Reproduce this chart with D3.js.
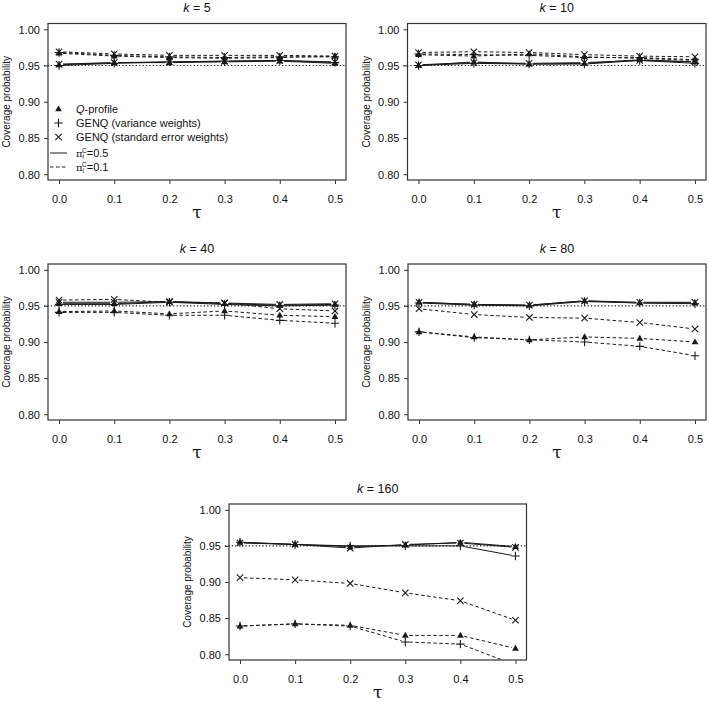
<!DOCTYPE html>
<html><head><meta charset="utf-8">
<script src="https://cdn.jsdelivr.net/npm/d3@7"></script>
<style>body{margin:0;background:#fff}svg{display:block}text{font-family:"Liberation Sans",Arial,sans-serif;fill:#111}</style>
</head><body>
<script>
const taus = [0.0, 0.1, 0.2, 0.3, 0.4, 0.5];
const yTicks = [0.80, 0.85, 0.90, 0.95, 1.00];
const panelTitles = ["5", "10", "40", "80", "160"];
const methods = ["Q-profile", "GENQ (variance weights)", "GENQ (standard error weights)"];
const piLabels = ["0.5", "0.1"];

// values per panel: [method][pi] ; pi index 0 = 0.5 (solid), 1 = 0.1 (dashed)
const k5_Q_05   = [0.951, 0.954, 0.954, 0.955, 0.956, 0.953];
const k5_V_05   = [0.950, 0.953, 0.955, 0.956, 0.957, 0.954];
const k5_S_05   = [0.952, 0.954, 0.955, 0.956, 0.957, 0.955];
const k5_Q_01   = [0.967, 0.963, 0.961, 0.960, 0.961, 0.963];
const k5_V_01   = [0.968, 0.964, 0.962, 0.961, 0.962, 0.962];
const k5_S_01   = [0.969, 0.966, 0.964, 0.964, 0.964, 0.963];

const k10_Q_05  = [0.950, 0.955, 0.952, 0.953, 0.958, 0.955];
const k10_V_05  = [0.950, 0.953, 0.952, 0.952, 0.957, 0.953];
const k10_S_05  = [0.951, 0.954, 0.953, 0.954, 0.957, 0.955];
const k10_Q_01  = [0.965, 0.963, 0.966, 0.962, 0.960, 0.957];
const k10_V_01  = [0.966, 0.965, 0.964, 0.961, 0.961, 0.958];
const k10_S_01  = [0.968, 0.969, 0.968, 0.965, 0.963, 0.962];

const k40_Q_05  = [0.953, 0.953, 0.956, 0.953, 0.951, 0.952];
const k40_V_05  = [0.952, 0.952, 0.955, 0.952, 0.950, 0.951];
const k40_S_05  = [0.955, 0.955, 0.956, 0.954, 0.952, 0.953];
const k40_Q_01  = [0.942, 0.943, 0.939, 0.943, 0.937, 0.935];
const k40_V_01  = [0.941, 0.941, 0.937, 0.937, 0.930, 0.926];
const k40_S_01  = [0.958, 0.959, 0.955, 0.954, 0.946, 0.943];

const k80_Q_05  = [0.955, 0.952, 0.951, 0.957, 0.954, 0.954];
const k80_V_05  = [0.954, 0.951, 0.950, 0.956, 0.954, 0.953];
const k80_S_05  = [0.955, 0.952, 0.951, 0.957, 0.955, 0.955];
const k80_Q_01  = [0.914, 0.907, 0.903, 0.907, 0.905, 0.900];
const k80_V_01  = [0.914, 0.906, 0.903, 0.900, 0.894, 0.881];
const k80_S_01  = [0.946, 0.938, 0.934, 0.933, 0.927, 0.918];

const k160_Q_05 = [0.955, 0.952, 0.949, 0.951, 0.955, 0.949];
const k160_V_05 = [0.955, 0.952, 0.950, 0.950, 0.950, 0.936];
const k160_S_05 = [0.954, 0.952, 0.947, 0.952, 0.954, 0.948];
const k160_Q_01 = [0.839, 0.842, 0.840, 0.826, 0.826, 0.808];
const k160_V_01 = [0.839, 0.842, 0.839, 0.817, 0.814, 0.785];
const k160_S_01 = [0.906, 0.903, 0.898, 0.885, 0.874, 0.847];

const panelData = [
  [[k5_Q_05, k5_Q_01], [k5_V_05, k5_V_01], [k5_S_05, k5_S_01]],
  [[k10_Q_05, k10_Q_01], [k10_V_05, k10_V_01], [k10_S_05, k10_S_01]],
  [[k40_Q_05, k40_Q_01], [k40_V_05, k40_V_01], [k40_S_05, k40_S_01]],
  [[k80_Q_05, k80_Q_01], [k80_V_05, k80_V_01], [k80_S_05, k80_S_01]],
  [[k160_Q_05, k160_Q_01], [k160_V_05, k160_V_01], [k160_S_05, k160_S_01]]
];

const boxes = [
  {l: 48, r: 346, t: 23.5, b: 180},
  {l: 407.5, r: 706, t: 23.5, b: 180},
  {l: 48, r: 346, t: 264, b: 420},
  {l: 408, r: 706, t: 264, b: 420},
  {l: 229, r: 526.5, t: 504, b: 660}
];

const W = 709, H = 701;
const svg = d3.select("body").append("svg").attr("width", W).attr("height", H);
const ink = "#1a1a1a";
const dashPat = "3.5,2.5";

function marker(g, type, x, y) {
  if (type === 0) {
    const s = 3.6;
    g.append("path").attr("d", `M${x},${y - s}L${x + s * 0.95},${y + s * 0.65}L${x - s * 0.95},${y + s * 0.65}Z`).attr("fill", ink);
  } else if (type === 1) {
    const s = 4.2;
    g.append("path").attr("d", `M${x - s},${y}H${x + s}M${x},${y - s}V${y + s}`).attr("stroke", ink).attr("stroke-width", 1.1).attr("fill", "none");
  } else {
    const s = 3.2;
    g.append("path").attr("d", `M${x - s},${y - s}L${x + s},${y + s}M${x - s},${y + s}L${x + s},${y - s}`).attr("stroke", ink).attr("stroke-width", 1.1).attr("fill", "none");
  }
}

panelData.forEach((pd, pi) => {
  const bx = boxes[pi];
  const x = d3.scaleLinear().domain([-0.02, 0.52]).range([bx.l, bx.r]);
  const y = d3.scaleLinear().domain([0.792, 1.008]).range([bx.b, bx.t]);
  const g = svg.append("g");
  const cid = "clip" + pi;
  svg.append("clipPath").attr("id", cid).append("rect")
    .attr("x", bx.l).attr("y", bx.t).attr("width", bx.r - bx.l).attr("height", bx.b - bx.t);

  // reference line
  g.append("line").attr("x1", bx.l - 4).attr("x2", bx.r).attr("y1", y(0.95)).attr("y2", y(0.95))
    .attr("stroke", ink).attr("stroke-width", 1.1).attr("stroke-dasharray", "1.2,2.2");

  const dg = g.append("g").attr("clip-path", `url(#${cid})`);
  pd.forEach((mArr, m) => {
    mArr.forEach((vals, p) => {
      // type "b": segments with gaps around points
      for (let i = 0; i < taus.length - 1; i++) {
        const x1 = x(taus[i]), y1 = y(vals[i]), x2 = x(taus[i + 1]), y2 = y(vals[i + 1]);
        const len = Math.hypot(x2 - x1, y2 - y1), gap = 4;
        const ux = (x2 - x1) / len, uy = (y2 - y1) / len;
        dg.append("line").attr("x1", x1 + ux * gap).attr("y1", y1 + uy * gap)
          .attr("x2", x2 - ux * gap).attr("y2", y2 - uy * gap)
          .attr("stroke", ink).attr("stroke-width", 1)
          .attr("stroke-dasharray", p === 1 ? dashPat : null);
      }
      taus.forEach((t, i) => {
        if (vals[i] >= 0.792) marker(dg, m, x(t), y(vals[i]));
      });
    });
  });

  // box
  g.append("rect").attr("x", bx.l).attr("y", bx.t).attr("width", bx.r - bx.l).attr("height", bx.b - bx.t)
    .attr("fill", "none").attr("stroke", "#333").attr("stroke-width", 1.2);

  // axes
  const xa = g.append("g").attr("transform", `translate(0,${bx.b})`)
    .call(d3.axisBottom(x).tickValues(taus).tickFormat(d3.format(".1f")).tickSize(4).tickSizeOuter(0));
  xa.select(".domain").remove();
  xa.selectAll("line").attr("stroke", "#333");
  xa.selectAll("text").attr("font-size", 11).attr("dy", 0).attr("y", 23).attr("fill", "#111")
    .style("font-family", "Liberation Sans, Arial, sans-serif");
  const ya = g.append("g").attr("transform", `translate(${bx.l},0)`)
    .call(d3.axisLeft(y).tickValues(yTicks).tickFormat(d3.format(".2f")).tickSize(4).tickSizeOuter(0));
  ya.select(".domain").remove();
  ya.selectAll("line").attr("stroke", "#333");
  ya.selectAll("text").attr("font-size", 11).attr("x", -8).attr("dy", "0.35em").attr("fill", "#111")
    .style("font-family", "Liberation Sans, Arial, sans-serif");

  // labels
  const cx = (bx.l + bx.r) / 2;
  const tt = g.append("text").attr("x", cx).attr("y", bx.t - 11.5).attr("text-anchor", "middle").attr("font-size", 12.5);
  tt.append("tspan").attr("font-style", "italic").text("k");
  tt.append("tspan").text(" = " + panelTitles[pi]);
  g.append("text").attr("x", cx).attr("y", bx.b + 38).attr("text-anchor", "middle").attr("font-size", 17)
    .style("font-family", "DejaVu Serif, serif").text("τ");
  g.append("text").attr("transform", `translate(${bx.l - 38},${(bx.t + bx.b) / 2}) rotate(-90)`)
    .attr("text-anchor", "middle").attr("font-size", 10).text("Coverage probability");

  if (pi === 0) {
    const lg = g.append("g");
    const rows = [109, 123, 137, 153, 167];
    methods.forEach((name, m) => {
      marker(lg, m, 58.5, rows[m]);
      const t = lg.append("text").attr("x", 76).attr("y", rows[m] + 4).attr("font-size", 11);
      if (m === 0) { t.append("tspan").attr("font-style", "italic").text("Q"); t.append("tspan").text("-profile"); }
      else t.text(name);
    });
    piLabels.forEach((lab, p) => {
      const ry = rows[3 + p];
      lg.append("line").attr("x1", 50).attr("x2", 67).attr("y1", ry).attr("y2", ry)
        .attr("stroke", ink).attr("stroke-width", 1).attr("stroke-dasharray", p === 1 ? dashPat : null);
      const t = lg.append("text").attr("x", 76).attr("y", ry + 4).attr("font-size", 11);
      t.append("tspan").style("font-family", "DejaVu Serif, serif").attr("font-size", 10).text("π");
      t.append("tspan").attr("font-size", 6.5).attr("dy", 2).text("i");
      t.append("tspan").attr("font-size", 6.5).attr("dx", -2).attr("dy", -6).text("C");
      t.append("tspan").attr("dy", 4).text("=" + lab);
    });
  }
});
</script>
</body></html>
